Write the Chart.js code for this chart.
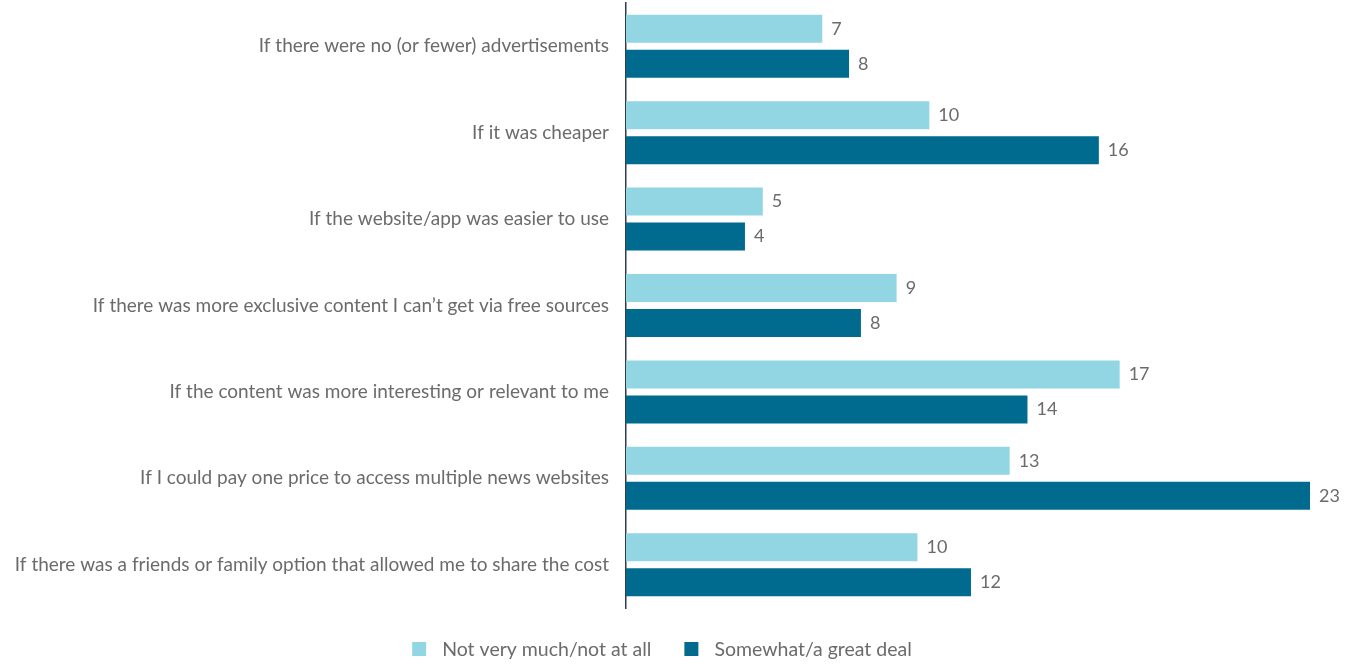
<!DOCTYPE html>
<html>
<head>
<meta charset="utf-8">
<script src="https://cdn.jsdelivr.net/npm/chart.js@4.4.0/dist/chart.umd.min.js"></script>
<style>
  html, body { margin: 0; padding: 0; background: #fff; }
  #wrap { width: 1351px; height: 664px; position: relative; }
</style>
</head>
<body>
<div id="wrap"><canvas id="grafica"></canvas></div>
<script>
var categorias = [
    'If there were no (or fewer) advertisements',
    'If it was cheaper',
    'If the website/app was easier to use',
    'If there was more exclusive content I can\u2019t get via free sources',
    'If the content was more interesting or relevant to me',
    'If I could pay one price to access multiple news websites',
    'If there was a friends or family option that allowed me to share the cost'
];
var nombreSerie1 = 'Not very much/not at all';
var nombreSerie2 = 'Somewhat/a great deal';
// values, labels show rounded values
var serie1 = [6.6, 10.2, 4.6, 9.1, 16.6, 12.9, 9.8];
var serie2 = [7.5, 15.9, 4.0, 7.9, 13.5, 23.0, 11.6];

var grisTexto = '#6b6b6b';
var colores = ['#93d6e3', '#006a8f'];

// labels on the y axis, value labels and the legend
var textos = {
    id: 'textos',
    afterDraw: function(chart){
        var ctx = chart.ctx;
        var y = chart.scales.y;
        ctx.save();
        ctx.fillStyle = grisTexto;
        ctx.textBaseline = 'middle';

        ctx.font = '19px Lato';
        ctx.textAlign = 'right';
        chart.data.labels.forEach(function(lab, i){
            ctx.fillText(lab, y.right - 17, y.getPixelForTick(i));
        });

        ctx.font = '18px Lato';
        ctx.textAlign = 'left';
        chart.data.datasets.forEach(function(ds, i){
            chart.getDatasetMeta(i).data.forEach(function(bar, j){
                ctx.fillText(String(Math.round(ds.data[j])), bar.x + 9, bar.y);
            });
        });

        // legend
        ctx.font = '19.5px Lato';
        var caja = 14, hueco = 16, entre = 33;
        var anchos = chart.data.datasets.map(function(ds){ return ctx.measureText(ds.label).width; });
        var total = anchos.reduce(function(a, w){ return a + caja + hueco + w; }, 0) + entre * (anchos.length - 1);
        var x = 662 - total / 2;
        var yl = 649;
        chart.data.datasets.forEach(function(ds, i){
            ctx.fillStyle = colores[i];
            ctx.fillRect(x, yl - 7, caja, caja);
            ctx.fillStyle = grisTexto;
            ctx.fillText(ds.label, x + caja + hueco, yl + 1);
            x += caja + hueco + anchos[i] + entre;
        });
        ctx.restore();
    }
};

var ctx = document.getElementById('grafica').getContext('2d');
var chart = new Chart(ctx, {
    type: 'bar',
    data: {
        labels: categorias,
        datasets: [{
            label: nombreSerie1,
            data: serie1,
            backgroundColor: colores[0],
            categoryPercentage: 0.81,
            barPercentage: 0.8
        }, {
            label: nombreSerie2,
            data: serie2,
            backgroundColor: colores[1],
            categoryPercentage: 0.81,
            barPercentage: 0.8
        }]
    },
    options: {
        indexAxis: 'y',
        responsive: true,
        maintainAspectRatio: false,
        animation: false,
        layout: { padding: { top: 3, right: 41, left: 0, bottom: 56 } },
        scales: {
            x: { display: false, min: 0, max: 23 },
            y: {
                grid: { display: false, drawTicks: false },
                border: { display: true, color: '#2d3e50', width: 1.5 },
                ticks: { display: false },
                afterFit: function(scale){ scale.width = 626; }
            }
        },
        plugins: {
            legend: { display: false },
            tooltip: { enabled: false }
        }
    },
    plugins: [textos]
});
</script>
</body>
</html>
